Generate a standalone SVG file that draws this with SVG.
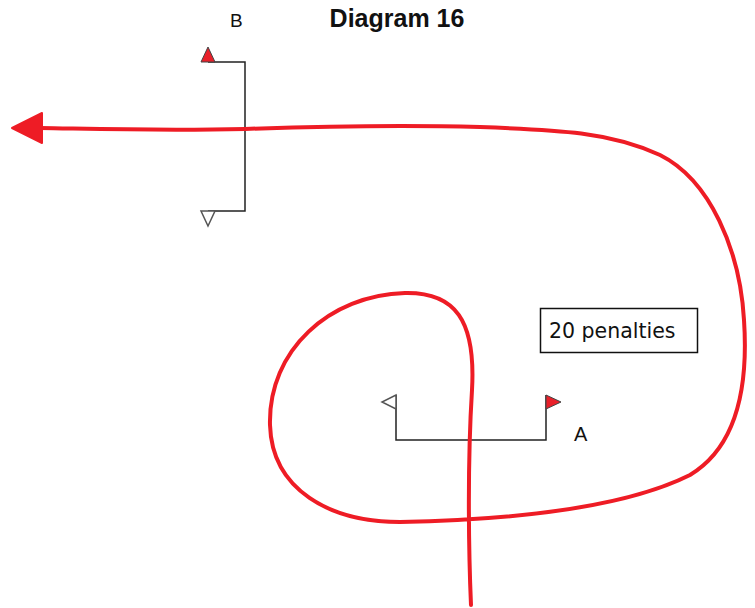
<svg xmlns="http://www.w3.org/2000/svg" width="755" height="608" viewBox="0 0 755 608">
<style>
.gate{fill:none;stroke:#222;stroke-width:1.5}
.fr{fill:#e8202a;stroke:#444;stroke-width:1;stroke-linejoin:miter}
.fw{fill:#fff;stroke:#555;stroke-width:1.5}
.lbl{font-family:"Liberation Sans",Arial,sans-serif;fill:#111}
.route{fill:none;stroke:#ee1c25;stroke-width:4;stroke-linecap:round;stroke-linejoin:round}
</style>
<rect width="755" height="608" fill="#fff"/>
<text class="lbl" x="397" y="27" font-size="25" font-weight="bold" text-anchor="middle">Diagram 16</text>
<g id="gateB">
<path class="gate" d="M208 62 H245 V211 H208"/>
<polygon class="fr" points="201,62 215,62 208,47"/>
<polygon class="fw" points="201,211 215,211 208,226"/>
<text class="lbl" x="230" y="27" font-size="19">B</text>
</g>
<g id="gateA">
<path class="gate" d="M396 395 V440 H546 V395"/>
<polygon class="fw" points="396,395 396,409 382,402"/>
<polygon class="fr" points="546,395 546,409 561,402"/>
<text class="lbl" x="574" y="441" font-size="20">A</text>
</g>
<g id="note">
<rect x="540.5" y="308.5" width="157" height="44" fill="#fff" stroke="#111" stroke-width="1.5"/>
<text x="549" y="338" font-family="'DejaVu Sans',Verdana,sans-serif" font-size="20.5" fill="#111">20 penalties</text>
</g>
<g id="connectors">
<path class="route" d="M471 605 C469 560,467 470,472 390 C476 320,455 292,405 293 C330 295,268 350,270 425 C272 490,330 522,400 522 C500 520,620 510,690 475 C740 445,748 380,744 320 C740 250,710 180,660 155 C610 132,560 130,480 127 C400 125,330 126,245 129 C160 131,100 129,40 128"/>
<polygon points="12,128 42,113 42,143" fill="#ee1c25" stroke="#ee1c25" stroke-width="2" stroke-linejoin="round"/>
</g>
</svg>
